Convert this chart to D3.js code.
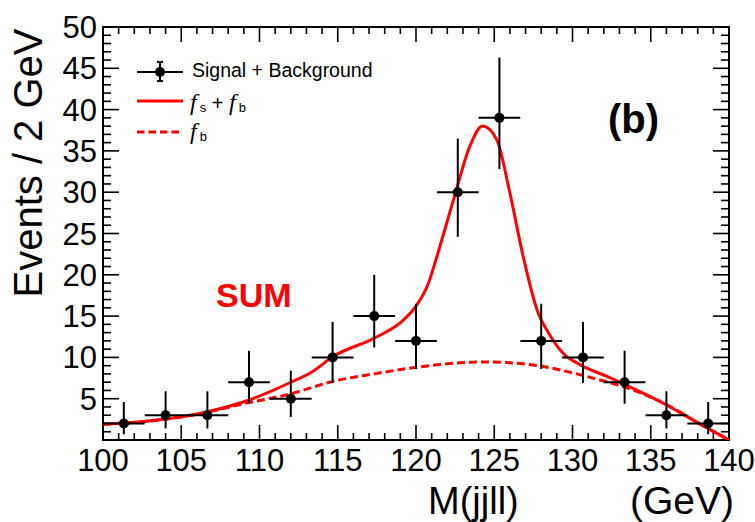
<!DOCTYPE html>
<html>
<head>
<meta charset="utf-8">
<script src="https://cdn.jsdelivr.net/npm/d3@7"></script>
<style>
  body { margin: 0; background: #fff; }
  text { font-family: "Liberation Sans", Arial, sans-serif; fill: #000; }
</style>
</head>
<body>
<svg id="chart"></svg>
<script>
/////////////
//  DATA   //
/////////////
// bin centres (GeV) and counts, 15 bins between 100 and 140 GeV
var massCenters = [101.33, 104, 106.67, 109.33, 112, 114.67, 117.33, 120, 122.67, 125.33, 128, 130.67, 133.33, 136, 138.67];
var binHalfWidth = 1.333;
var events = [2, 3, 3, 7, 5, 10, 15, 12, 30, 39, 12, 10, 7, 3, 2];
// asymmetric (poisson-like) error bars
var errLow  = [1.3, 1.6, 1.6, 2.6, 2.2, 3.1, 3.8, 3.4, 5.4, 6.2, 3.4, 3.1, 2.6, 1.6, 1.3];
var errHigh = [2.6, 2.9, 2.9, 3.8, 3.4, 4.3, 5.0, 4.5, 6.5, 7.3, 4.5, 4.3, 3.8, 2.9, 2.6];

// fitted fs + fb curve
var fitMass  = [100, 103.2, 106.4, 109.2, 111.9, 113.4, 114.7, 117.3, 119, 120, 120.8, 121.3, 122.4, 123.45, 124.25, 125.15, 126, 126.85, 127.8, 128.35, 129.4, 130.5, 132.2, 133.7, 135.8, 137.9, 140];
var fitTotal = [1.9, 2.35, 3.3, 4.75, 6.9, 8.3, 10.1, 12.3, 14.2, 16.2, 19.0, 22.0, 29.1, 35.6, 38.0, 36.4, 29.9, 22.2, 15.4, 13.35, 10.5, 9.1, 7.7, 6.4, 4.45, 2.2, 0];
// fitted background fb
var bkgMass   = [100, 103, 106, 109, 112, 114.7, 117.3, 120, 122.5, 124.5, 126, 127.8, 129.4, 131.5, 133.2, 136, 138, 140];
var bkgValues = [1.9, 2.3, 3.1, 4.4, 5.6, 7.1, 8.0, 8.8, 9.3, 9.45, 9.35, 9.0, 8.4, 7.4, 6.5, 4.3, 2.1, 0];

var xTicks = d3.range(100, 141, 5);
var yTicks = d3.range(5, 51, 5);

/////////////
//  SETUP  //
/////////////
var width = 755, height = 522;
var margin = {left: 103, right: 26, top: 27, bottom: 82};
var red = '#ff0000';
var serif = '"Liberation Serif", "Times New Roman", serif';

var svg = d3.select('#chart').attr('width', width).attr('height', height);
svg.append('rect').attr('width', width).attr('height', height).attr('fill', '#fff');

var x = d3.scaleLinear().domain([100, 140]).range([margin.left, width - margin.right]);
var y = d3.scaleLinear().domain([0, 50]).range([height - margin.bottom, margin.top]);

svg.append('defs').append('clipPath').attr('id', 'plot-clip')
  .append('rect')
  .attr('x', x(100)).attr('y', y(50))
  .attr('width', x(140) - x(100)).attr('height', y(0) - y(50));

// ticks: ROOT style, all pointing inward, on all four sides
var ticks = svg.append('g').attr('stroke', '#000').attr('stroke-width', 1.6);
d3.range(100, 141, 1).forEach((v) => {
  var len = v % 5 === 0 ? 15 : 7;
  ticks.append('line').attr('x1', x(v)).attr('x2', x(v)).attr('y1', y(0)).attr('y2', y(0) - len);
  ticks.append('line').attr('x1', x(v)).attr('x2', x(v)).attr('y1', y(50)).attr('y2', y(50) + len);
});
d3.range(0, 51, 1).forEach((v) => {
  var len = v % 5 === 0 ? 16 : 8;
  ticks.append('line').attr('y1', y(v)).attr('y2', y(v)).attr('x1', x(100)).attr('x2', x(100) + len);
  ticks.append('line').attr('y1', y(v)).attr('y2', y(v)).attr('x1', x(140)).attr('x2', x(140) - len);
});

// frame
svg.append('rect')
  .attr('x', x(100)).attr('y', y(50))
  .attr('width', x(140) - x(100)).attr('height', y(0) - y(50))
  .attr('fill', 'none').attr('stroke', '#000').attr('stroke-width', 2);

// tick labels
svg.append('g').selectAll('text').data(xTicks).enter().append('text')
  .attr('x', (d) => x(d)).attr('y', y(0) + 31)
  .attr('text-anchor', 'middle').style('font-size', '31px')
  .text((d) => d);
svg.append('g').selectAll('text').data(yTicks).enter().append('text')
  .attr('x', x(100) - 6).attr('y', (d) => y(d) + 11)
  .attr('text-anchor', 'end').style('font-size', '31px')
  .text((d) => d);

// axis titles
svg.append('text')
  .attr('transform', 'translate(42,163) rotate(-90)')
  .attr('text-anchor', 'middle').style('font-size', '40px')
  .text('Events / 2 GeV');
svg.append('text').attr('x', 428).attr('y', 514).style('font-size', '38px').text('M(jjll)');
svg.append('text').attr('x', 630).attr('y', 514).style('font-size', '39px').text('(GeV)');

// curves
var plot = svg.append('g').attr('clip-path', 'url(#plot-clip)');
var line = d3.line().curve(d3.curveMonotoneX);

plot.append('path')
  .attr('d', line(bkgMass.map((m, i) => [x(m), y(bkgValues[i])])))
  .attr('fill', 'none').attr('stroke', red).attr('stroke-width', 3)
  .attr('stroke-dasharray', '8,4');
plot.append('path')
  .attr('d', line(fitMass.map((m, i) => [x(m), y(fitTotal[i])])))
  .attr('fill', 'none').attr('stroke', red).attr('stroke-width', 3);

// data points with error bars
var points = svg.append('g').selectAll('g').data(events).enter().append('g')
  .attr('stroke', '#000').attr('stroke-width', 2);
points.append('line')
  .attr('x1', (d, i) => x(massCenters[i] - binHalfWidth))
  .attr('x2', (d, i) => x(massCenters[i] + binHalfWidth))
  .attr('y1', (d) => y(d)).attr('y2', (d) => y(d));
points.append('line')
  .attr('x1', (d, i) => x(massCenters[i])).attr('x2', (d, i) => x(massCenters[i]))
  .attr('y1', (d, i) => y(d - errLow[i])).attr('y2', (d, i) => y(d + errHigh[i]));
points.append('circle')
  .attr('cx', (d, i) => x(massCenters[i])).attr('cy', (d) => y(d))
  .attr('r', 5).attr('fill', '#000').attr('stroke', 'none');

// legend
var legend = svg.append('g');
legend.append('line').attr('x1', 137).attr('x2', 183).attr('y1', 72).attr('y2', 72)
  .attr('stroke', '#000').attr('stroke-width', 2);
legend.append('line').attr('x1', 160).attr('x2', 160).attr('y1', 62).attr('y2', 81)
  .attr('stroke', '#000').attr('stroke-width', 2);
legend.append('line').attr('x1', 157).attr('x2', 163).attr('y1', 62).attr('y2', 62)
  .attr('stroke', '#000').attr('stroke-width', 2);
legend.append('line').attr('x1', 157).attr('x2', 163).attr('y1', 81).attr('y2', 81)
  .attr('stroke', '#000').attr('stroke-width', 2);
legend.append('circle').attr('cx', 160).attr('cy', 72).attr('r', 5).attr('fill', '#000');
legend.append('text').attr('x', 192).attr('y', 77).style('font-size', '19.5px').text('Signal + Background');

legend.append('line').attr('x1', 137).attr('x2', 183).attr('y1', 101).attr('y2', 101)
  .attr('stroke', red).attr('stroke-width', 3);
var fsfb = legend.append('text').attr('x', 190).attr('y', 110).style('font-size', '20px');
fsfb.append('tspan').style('font-family', serif).style('font-style', 'italic').style('font-size', '24px').text('f');
fsfb.append('tspan').attr('dx', 3).attr('dy', 2).style('font-size', '13px').text('s');
fsfb.append('tspan').attr('dy', -2).text(' + ');
fsfb.append('tspan').style('font-family', serif).style('font-style', 'italic').style('font-size', '24px').text('f');
fsfb.append('tspan').attr('dx', 3).attr('dy', 2).style('font-size', '13px').text('b');

legend.append('line').attr('x1', 137).attr('x2', 183).attr('y1', 132).attr('y2', 132)
  .attr('stroke', red).attr('stroke-width', 3).attr('stroke-dasharray', '7.5,4');
var fb = legend.append('text').attr('x', 190).attr('y', 139).style('font-size', '20px');
fb.append('tspan').style('font-family', serif).style('font-style', 'italic').style('font-size', '24px').text('f');
fb.append('tspan').attr('dx', 3).attr('dy', 2).style('font-size', '13px').text('b');

// annotations
svg.append('text').attr('x', 608).attr('y', 133)
  .style('font-size', '40px').style('font-weight', 'bold').text('(b)');
svg.append('text').attr('x', 216).attr('y', 307)
  .style('font-size', '34px').style('font-weight', 'bold').style('fill', red).text('SUM');
</script>
</body>
</html>
